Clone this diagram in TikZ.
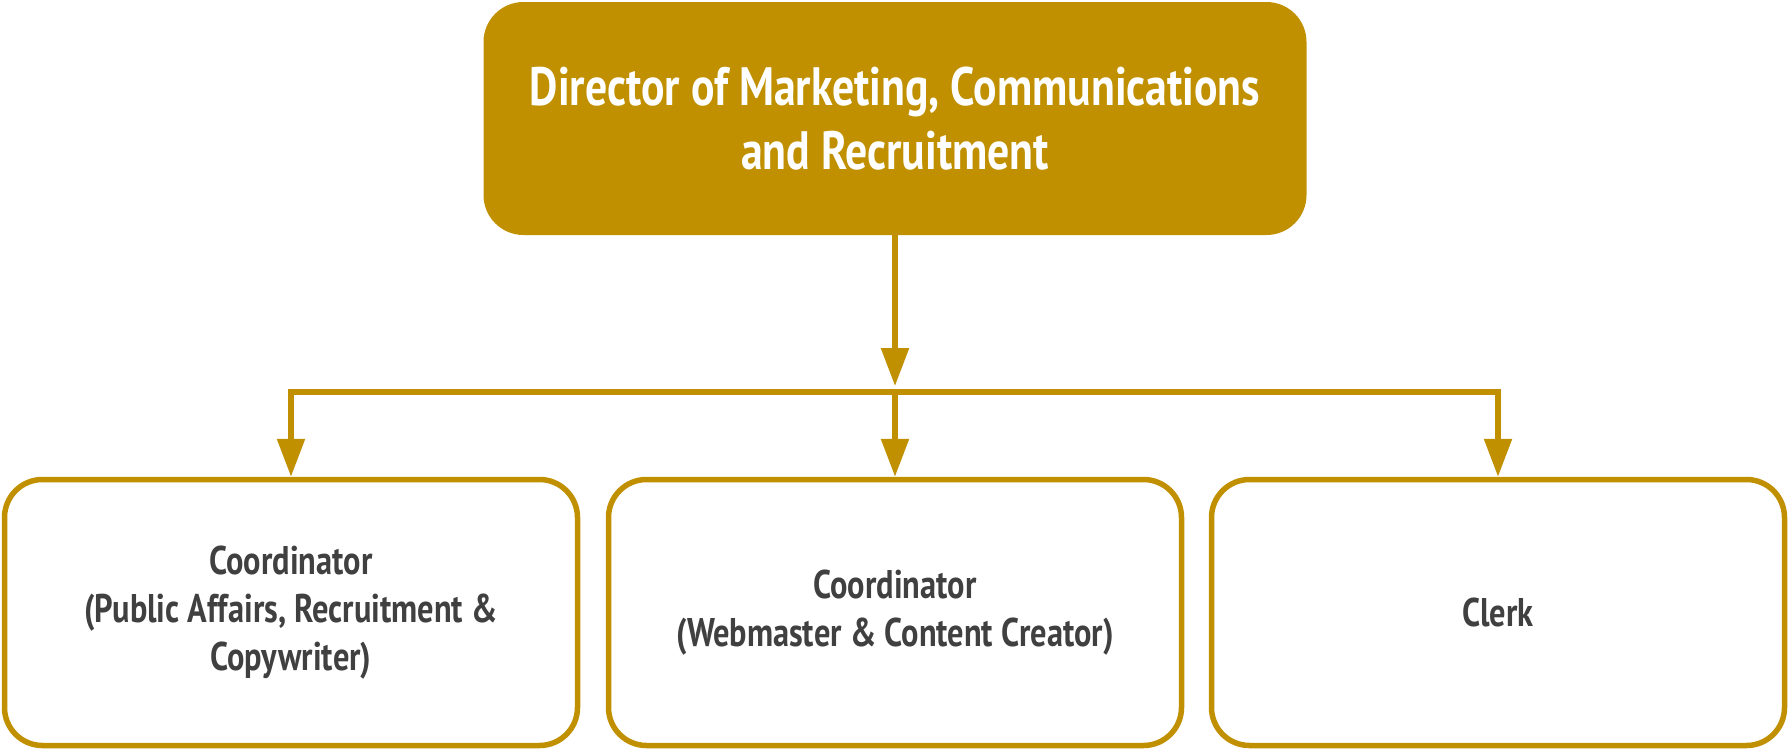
\documentclass[tikz,border=0pt]{standalone}
\usepackage{fontspec}
\setmainfont[FakeStretch=0.81]{PT Sans}
\usetikzlibrary{arrows.meta}
\definecolor{gold}{RGB}{192,144,0}
\definecolor{txt}{RGB}{64,64,64}
\begin{document}
\begin{tikzpicture}[x=1pt,y=-1pt,
  topbox/.style={fill=gold,draw=none,rounded corners=40pt,minimum width=823pt,minimum height=233pt,inner sep=0pt,
    text=white,font=\fontsize{54}{64}\selectfont\bfseries,align=center},
  subbox/.style={fill=white,draw=gold,line width=5.5pt,rounded corners=38pt,minimum width=573pt,minimum height=266pt,inner sep=0pt,
    text=txt,font=\fontsize{40}{48}\selectfont\bfseries,align=center},
  conn/.style={draw=gold,line width=5.5pt},
  arr/.style={conn,-{Triangle[length=38pt,width=27pt]}}]
\useasboundingbox (0,0) rectangle (1791,750);
\node[topbox] (dir) at (895,118.5) {Director of Marketing, Communications\\and Recruitment};
\node[subbox] (c1) at (291,612.5) {Coordinator\\(Public Affairs, Recruitment \&\\Copywriter)};
\node[subbox] (c2) at (895,612.5) {Coordinator\\(Webmaster \& Content Creator)};
\node[subbox] (c3) at (1498,612.5) {Clerk};
\coordinate (hub) at (dir.south |- 0,392);
\coordinate (hl) at (c1.north |- 0,392);
\coordinate (hr) at (c3.north |- 0,392);
\draw[arr,shorten >=6pt] (dir.south) -- (hub);
\draw[conn] ([xshift=-2.75pt]hl) -- ([xshift=2.75pt]hr);
\draw[arr] (hl) -- (c1.north);
\draw[arr] (hub) -- (c2.north);
\draw[arr] (hr) -- (c3.north);
\end{tikzpicture}
\end{document}
